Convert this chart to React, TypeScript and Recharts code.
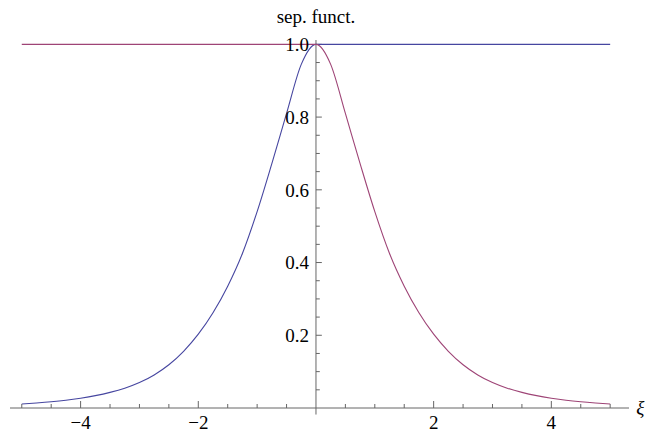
import React from 'react';
import { LineChart, Line, XAxis, YAxis, ReferenceLine, ReferenceDot } from 'recharts';

// sample points along ξ (step 0.25)
const xs = [
    -5, -4.75, -4.5, -4.25, -4, -3.75, -3.5, -3.25, -3, -2.75, -2.5, -2.25, -2, -1.75, -1.5, -1.25, -1, -0.75, -0.5, -0.25,
    0,
    0.25, 0.5, 0.75, 1, 1.25, 1.5, 1.75, 2, 2.25, 2.5, 2.75, 3, 3.25, 3.5, 3.75, 4, 4.25, 4.5, 4.75, 5,
];

// blue: rises on the left, flat at 1 on the right
const blueValues = [
    0.011, 0.0137, 0.017, 0.0213, 0.027, 0.034, 0.043, 0.0545, 0.07, 0.091, 0.119, 0.156, 0.203, 0.262, 0.335, 0.425, 0.54, 0.672, 0.81, 0.945,
    1,
    1, 1, 1, 1, 1, 1, 1, 1, 1, 1, 1, 1, 1, 1, 1, 1, 1, 1, 1, 1,
];

// red: flat at 1 on the left, falls on the right
const redValues = [
    1, 1, 1, 1, 1, 1, 1, 1, 1, 1, 1, 1, 1, 1, 1, 1, 1, 1, 1, 1,
    1,
    0.945, 0.81, 0.672, 0.54, 0.425, 0.335, 0.262, 0.203, 0.156, 0.119, 0.091, 0.07, 0.0545, 0.043, 0.034, 0.027, 0.0213, 0.017, 0.0137, 0.011,
];

const xTicks = [-5, -4.5, -4, -3.5, -3, -2.5, -2, -1.5, -1, -0.5, 0.5, 1, 1.5, 2, 2.5, 3, 3.5, 4, 4.5, 5];
const xLabels: Record<number, string> = { [-4]: '−4', [-2]: '−2', 2: '2', 4: '4' };
const xAxisName = 'ξ';

const yTicks = [0.05, 0.1, 0.15, 0.2, 0.25, 0.3, 0.35, 0.4, 0.45, 0.5, 0.55, 0.6, 0.65, 0.7, 0.75, 0.8, 0.85, 0.9, 0.95, 1.0];
const yLabels: Record<string, string> = { '0.2': '0.2', '0.4': '0.4', '0.6': '0.6', '0.8': '0.8', '1': '1.0' };

const data = xs.map((x, i) => ({ x, blue: blueValues[i], red: redValues[i] }));

const FONT = 'Liberation Serif';
const AXIS = '#666';
const BLUE = '#4646a0';
const RED = '#9e4476';

const XTick = (props: any) => {
    const { x, y, payload } = props;
    const v = payload.value;
    const major = Number.isInteger(v) && v % 2 === 0;
    return (
        <g>
            <line x1={x} y1={y} x2={x} y2={y - (major ? 7 : 4)} stroke={AXIS} strokeWidth={1} />
            {xLabels[v] && (
                <text x={x} y={y + 21} textAnchor="middle" fill="#000" fontSize={19} fontFamily={FONT}>
                    {xLabels[v]}
                </text>
            )}
            {/* axis name sits just past the end of the axis */}
            {v === 5 && (
                <text x={x + 26} y={y + 6} fill="#000" fontSize={19} fontFamily={FONT} fontStyle="italic">
                    {xAxisName}
                </text>
            )}
        </g>
    );
};

const labelStyle = { fill: '#000', fontSize: 19, fontFamily: FONT };

export default function App() {
    return (
        <div style={{ position: 'absolute', left: 0, top: 0 }}>
            <LineChart width={646} height={432} data={data} margin={{ top: 40, right: 17, bottom: 0, left: 10 }}>
                <XAxis
                    dataKey="x"
                    type="number"
                    domain={[-5.2, 5.32]}
                    ticks={xTicks}
                    interval={0}
                    height={24}
                    tickSize={0}
                    tickMargin={0}
                    tickLine={false}
                    axisLine={{ stroke: AXIS, strokeWidth: 1 }}
                    tick={<XTick />}
                />
                <YAxis type="number" domain={[0, 1.012]} hide />

                {/* vertical axis through ξ = 0 */}
                <ReferenceLine
                    segment={[{ x: 0, y: -0.018 }, { x: 0, y: 1.012 }]}
                    stroke={AXIS}
                    strokeWidth={1}
                    ifOverflow="visible"
                />
                {yTicks.map(v => {
                    const key = String(Math.round(v * 100) / 100);
                    const label = yLabels[key];
                    return (
                        <ReferenceLine
                            key={key}
                            segment={[{ x: 0, y: v }, { x: label ? 0.1 : 0.065, y: v }]}
                            stroke={AXIS}
                            strokeWidth={1}
                            ifOverflow="visible"
                            label={label ? { value: label, position: 'left', offset: 7, ...labelStyle } : undefined}
                        />
                    );
                })}

                <Line type="monotone" dataKey="blue" stroke={BLUE} strokeWidth={1.1} dot={false} isAnimationActive={false} />
                <Line type="monotone" dataKey="red" stroke={RED} strokeWidth={1.1} dot={false} isAnimationActive={false} />

                <ReferenceDot
                    x={0}
                    y={1.012}
                    r={0}
                    stroke="none"
                    fill="none"
                    ifOverflow="visible"
                    label={{ value: 'sep. funct.', position: 'top', offset: 17, ...labelStyle }}
                />
            </LineChart>
        </div>
    );
}
